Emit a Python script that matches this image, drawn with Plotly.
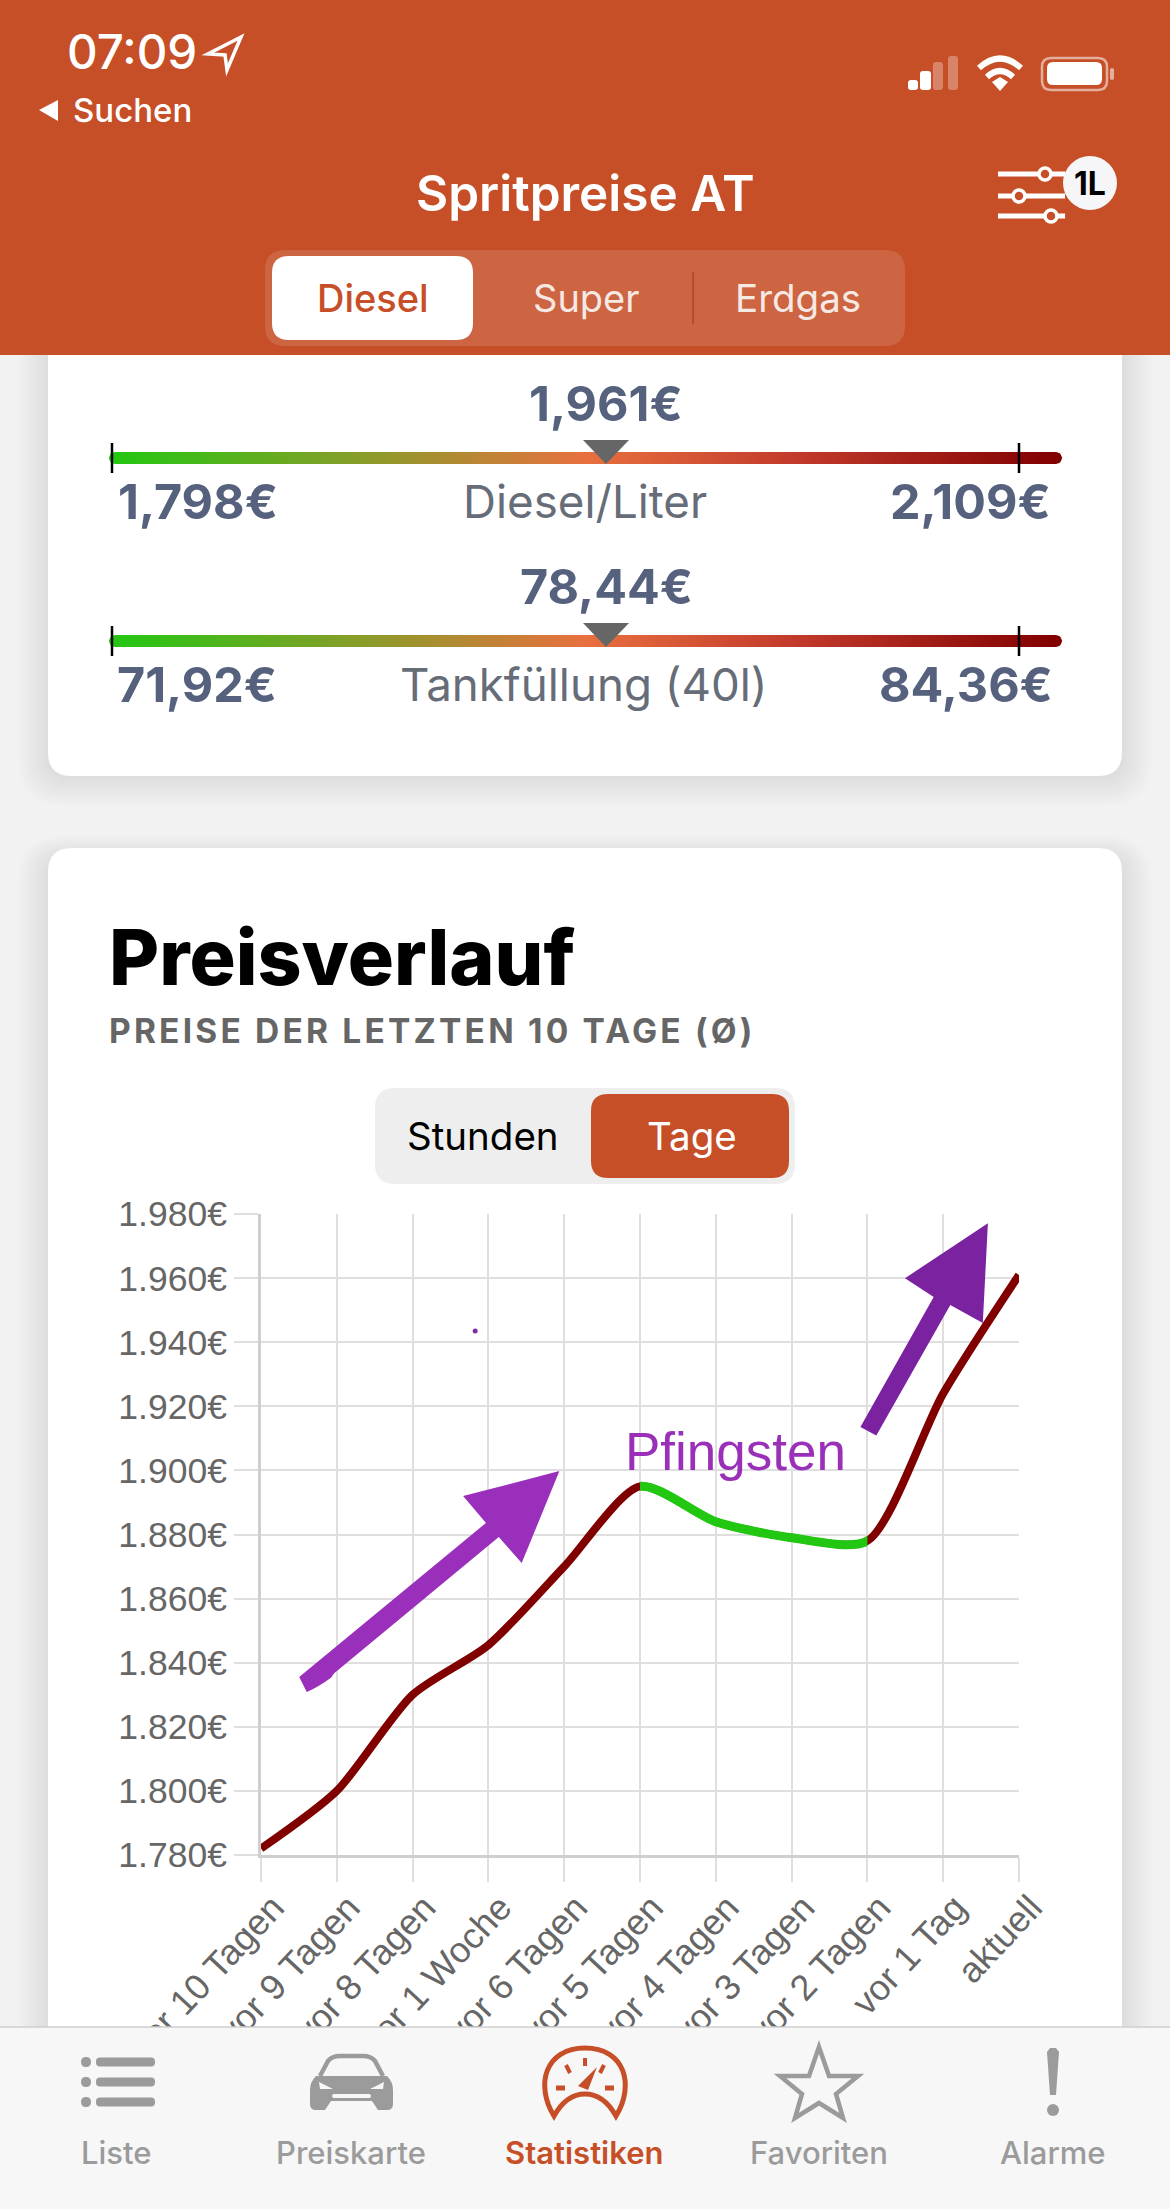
import numpy as np
import plotly.graph_objects as go

# ---------- chart data ----------
CATEGORIES = ["vor 10 Tagen", "vor 9 Tagen", "vor 8 Tagen", "vor 1 Woche", "vor 6 Tagen",
              "vor 5 Tagen", "vor 4 Tagen", "vor 3 Tagen", "vor 2 Tagen", "vor 1 Tag", "aktuell"]
PRICES = [1.782, 1.800, 1.830, 1.8455, 1.870, 1.895, 1.884, 1.879, 1.878, 1.924, 1.961]
Y_TICKS = [1.78, 1.80, 1.82, 1.84, 1.86, 1.88, 1.90, 1.92, 1.94, 1.96, 1.98]
Y_LABELS = ["1.780€", "1.800€", "1.820€", "1.840€", "1.860€", "1.880€", "1.900€", "1.920€", "1.940€", "1.960€", "1.980€"]
DARK_RED = "#800000"
GREEN = "#22c712"
GREEN_SPAN = [5, 8]

ORANGE = "#C64F28"
GREY = "#9b9b9b"
SLATE = "#56617e"
SANS = "Inter"
HELV = "Liberation Sans"

shapes, notes = [], []


def shape(path=None, fill=None, line=None, lw=0, layer="above", opacity=1):
    shapes.append(dict(type="path", path=path, xref="x", yref="y", layer=layer, opacity=opacity,
                       fillcolor=fill or "rgba(0,0,0,0)",
                       line=dict(color=line or "rgba(0,0,0,0)", width=lw)))


def rrect(x0, y0, x1, y1, r):
    return (f"M {x0+r} {y0} L {x1-r} {y0} Q {x1} {y0} {x1} {y0+r} L {x1} {y1-r} Q {x1} {y1} {x1-r} {y1} "
            f"L {x0+r} {y1} Q {x0} {y1} {x0} {y1-r} L {x0} {y0+r} Q {x0} {y0} {x0+r} {y0} Z")


def poly(pts):
    return "M " + " L ".join(f"{a:.1f} {b:.1f}" for a, b in pts) + " Z"


def circle(cx, cy, r, fill=None, line=None, lw=0, layer="above"):
    shapes.append(dict(type="circle", xref="x", yref="y", x0=cx-r, x1=cx+r, y0=cy-r, y1=cy+r, layer=layer,
                       fillcolor=fill or "rgba(0,0,0,0)", line=dict(color=line or "rgba(0,0,0,0)", width=lw)))


def seg(x0, y0, x1, y1, color, lw):
    shapes.append(dict(type="line", xref="x", yref="y", x0=x0, y0=y0, x1=x1, y1=y1, layer="above",
                       line=dict(color=color, width=lw)))


def text(x, y, s, size, color, anchor="center", weight=400, family=SANS):
    notes.append(dict(x=x, y=y, xref="x", yref="y", text=s, showarrow=False, xanchor=anchor, yanchor="middle",
                      font=dict(size=size, color=color, family=family, weight=weight)))


# ---------- cards ----------
for (x0, y0, x1, y1) in [(48, 300, 1122, 776), (48, 848, 1122, 2300)]:
    for k in range(10, 0, -1):
        shape(rrect(x0-k*3, y0-k*2+8, x1+k*3, y1+k*3, 24+k*2), fill="#000000", layer="below", opacity=0.006)
    shape(rrect(x0, y0, x1, y1, 24), fill="#ffffff", layer="below")

# ---------- header ----------
shape(poly([(0, 0), (1170, 0), (1170, 355), (0, 355)]), fill=ORANGE)
text(65, 51, "07:09", 47.5, "#ffffff", "left", 500)
shape(poly([(241, 37), (208, 54), (225, 55), (227, 70)]), line="#ffffff", lw=3.5)
shape(poly([(58, 100), (39, 110), (58, 121)]), fill="#ffffff")
text(71, 110, "Suchen", 33, "#ffffff", "left", 500)
text(585, 193, "Spritpreise AT", 49.5, "#ffffff", "center", 600)

for (x0, x1, y0, a) in [(908, 918, 80, 1), (920, 931, 71, 1), (933, 943, 62, .3), (948, 958, 56, .3)]:
    shape(rrect(x0, y0, x1, 90, 3), fill=f"rgba(255,255,255,{a})")
# wifi
shape("M 979 68 Q 1000 49 1021 68", line="#ffffff", lw=6)
shape("M 987 77 Q 1000 65 1013 77", line="#ffffff", lw=6)
shape(poly([(1000, 91), (992, 82), (1000, 77), (1008, 82)]), fill="#ffffff")
# battery
shape(rrect(1042, 58, 1107, 90, 9), line="rgba(255,255,255,.55)", lw=2.5)
shape(rrect(1047, 62, 1102, 85, 6), fill="#ffffff")
shape(rrect(1110, 68, 1114, 80, 2), fill="rgba(255,255,255,.55)")
# filter icon
for (ly, cx) in [(174, 1045), (196, 1019), (216, 1051)]:
    seg(998, ly, 1065, ly, "#ffffff", 5)
    circle(cx, ly, 6, fill=ORANGE, line="#ffffff", lw=3.5)
circle(1090, 183, 27, fill="#f6f6f8")
text(1090, 183, "1L", 32, "#000000", "center", 700)
# fuel segmented control
shape(rrect(265, 250, 905, 346, 20), fill="rgba(255,255,255,.12)")
shape(rrect(272, 256, 473, 340, 17), fill="#ffffff")
seg(693, 272, 693, 324, "rgba(150,50,20,.45)", 2)
text(373, 298, "Diesel", 38, ORANGE, "center", 500)
text(586, 298, "Super", 38, "#f6e9e3", "center", 400)
text(798, 298, "Erdgas", 38.5, "#f6e9e3", "center", 400)

# ---------- gauges ----------
GAUGE_SCALE = [[0, "#22c712"], [.28, "#8f9a2a"], [.5, "#e8703f"], [.72, "#c23a2b"], [1, "#800000"]]
traces = []
for (cy, hi, low, low_x, mid, label, lab_x, high, high_x) in [
        (458, 403, "1,798€", 116, "1,961€", "Diesel/Liter", 585, "2,109€", 1053),
        (641, 586, "71,92€", 115, "78,44€", "Tankfüllung (40l)", 584, "84,36€", 1055)]:
    th = np.linspace(np.pi/2, -np.pi/2, 12)
    xs = np.r_[1056 + 6*np.cos(th), 115 - 6*np.cos(th)]
    ys = np.r_[cy - 6*np.sin(th), cy + 6*np.sin(th)]
    traces.append(go.Scatter(x=xs, y=ys, xaxis="x", yaxis="y", mode="lines", line=dict(width=0),
                             fill="toself", hoverinfo="skip", showlegend=False,
                             fillgradient=dict(type="horizontal", colorscale=GAUGE_SCALE)))
    seg(112, cy-15, 112, cy+15, "#000000", 2.5)
    seg(1019, cy-15, 1019, cy+15, "#000000", 2.5)
    shape(poly([(583, cy-18), (629, cy-18), (606, cy+6)]), fill="#666666")
    text(606, hi, mid, 48.5, SLATE, "center", 700)
    text(low_x, cy+43, low, 48.5, SLATE, "left", 700)
    text(high_x, cy+43, high, 48.5, SLATE, "right", 700)
    text(lab_x, cy+43, label, 45.7, "#666d78", "center", 400)

# ---------- Preisverlauf card ----------
text(107, 957, "Preisverlauf", 77, "#000000", "left", 800)
text(107 + 48, 1031, "PREISE DER LETZTEN 10 TAGE (Ø)", 33.5, "#666666", "left", 700)
shape(rrect(375, 1088, 795, 1184, 20), fill="#eeeeee")
shape(rrect(591, 1094, 789, 1178, 17), fill=ORANGE)
text(483, 1136, "Stunden", 38.5, "#000000", "center", 400)
text(692, 1136, "Tage", 38.5, "#ffffff", "center", 400)

# annotation overlay on the chart
def z(zx, zy):
    return (60 + zx/1.568, 1180 + zy/2.24)


shape("M {} {} L {} {} L {} {} L {} {} L {} {} L {} {} L {} {} L {} {} Q {} {} {} {} Z".format(
    *[round(v, 1) for p in [(375, 1113), (668, 768), (632, 708), (783, 652), (724, 858), (688, 800),
                            (430, 1105), (425, 1115), (405, 1136), (387, 1147)] for v in z(*p)]), fill="#9a2fbc")
shape(poly([z(*p) for p in [(1255, 553), (1370, 262), (1325, 220), (1455, 97), (1447, 320), (1396, 280),
                            (1280, 572)]]), fill="#7a22a0")
circle(*z(651, 338), 2.5, fill="#8a2aa8")
text(735, 1451, "Pfingsten", 53, "#9a30b8", "center", 400, HELV)

# ---------- tab bar ----------
shape(poly([(0, 2027), (1170, 2027), (1170, 2209), (0, 2209)]), fill="#f7f7f7")
seg(0, 2027, 1170, 2027, "#cfcfcf", 1.5)
for ly in (2062, 2082, 2102):
    shape(rrect(81, ly-5, 91, ly+5, 5), fill=GREY)
    shape(rrect(96, ly-4.5, 155, ly+4.5, 4), fill=GREY)
# car
shape("M 320 2076 L 328 2061 Q 332 2056 340 2056 L 363 2056 Q 371 2056 375 2061 L 383 2076", line=GREY, lw=4.5)
shape("M 316 2076 L 387 2076 Q 393 2082 393 2090 L 393 2104 Q 393 2110 387 2110 L 378 2110 L 372 2101 "
      "L 331 2101 L 325 2110 L 316 2110 Q 310 2110 310 2104 L 310 2090 Q 310 2082 316 2076 Z", fill=GREY)
shape(poly([(319, 2082), (333, 2089), (320, 2089)]), fill="#f7f7f7")
shape(poly([(384, 2082), (370, 2089), (383, 2089)]), fill="#f7f7f7")
shape(rrect(332, 2094, 371, 2098, 2), fill="#f7f7f7")
text(116, 2152, "Liste", 31, GREY, "center", 500)
text(351, 2152, "Preiskarte", 31, GREY, "center", 500)
text(584, 2152, "Statistiken", 31, ORANGE, "center", 600)
text(819, 2152, "Favoriten", 31, GREY, "center", 500)
text(1053, 2152, "Alarme", 31, GREY, "center", 500)
# speedometer
shape("M 554 2116 C 535 2085 545 2048 585 2048 C 625 2048 635 2085 616 2116 "
      "C 607 2100 597 2094 585 2094 C 573 2094 563 2100 554 2116 Z", line=ORANGE, lw=5)
seg(585, 2058, 585, 2066, ORANGE, 4)
seg(566, 2065, 570, 2073, ORANGE, 4)
seg(604, 2065, 600, 2073, ORANGE, 4)
seg(556, 2088, 565, 2088, ORANGE, 5)
seg(605, 2088, 614, 2088, ORANGE, 5)
shape(poly([(578, 2086), (597, 2067), (588, 2090)]), fill=ORANGE)
# star
shape(poly([(819, 2047), (829, 2076), (858, 2076), (836, 2094), (843, 2118), (819, 2103), (795, 2118),
            (802, 2094), (780, 2076), (809, 2076)]), line=GREY, lw=4.5)
# exclamation
shape(poly([(1047, 2052), (1050, 2048), (1056, 2048), (1059, 2052), (1056, 2095), (1050, 2095)]), fill=GREY)
circle(1053, 2110, 6, fill=GREY)

# ---------- price chart ----------
SPLINE = dict(shape="spline", smoothing=0.72)
# the same curve twice: dark red everywhere, and green on an axis clipped to the falling stretch
traces.append(go.Scatter(x=CATEGORIES, y=PRICES, xaxis="x2", yaxis="y2", mode="lines",
                         line=dict(color=DARK_RED, width=8, **SPLINE),
                         cliponaxis=False, showlegend=False))
traces.append(go.Scatter(x=CATEGORIES, y=PRICES, xaxis="x3", yaxis="y2", mode="lines",
                         line=dict(color=GREEN, width=9, **SPLINE),
                         cliponaxis=True, showlegend=False))

PLOT_L, PLOT_R = 261, 1019
n_steps = len(CATEGORIES) - 1
dom_a = (PLOT_L + (PLOT_R - PLOT_L) * GREEN_SPAN[0] / n_steps) / 1170
dom_b = (PLOT_L + (PLOT_R - PLOT_L) * GREEN_SPAN[1] / n_steps) / 1170

fig = go.Figure(traces)
fig.update_layout(
    width=1170, height=2209, margin=dict(l=0, r=0, t=0, b=0, autoexpand=False), autosize=False,
    paper_bgcolor="#f2f2f3", plot_bgcolor="rgba(0,0,0,0)", showlegend=False,
    xaxis=dict(domain=[0, 1], range=[0, 1170], visible=False, fixedrange=True, automargin=False),
    yaxis=dict(domain=[0, 1], range=[2209, 0], visible=False, fixedrange=True, automargin=False),
    xaxis2=dict(domain=[PLOT_L/1170, PLOT_R/1170], anchor="y2", type="category", range=[0, n_steps], automargin=False,
                categoryorder="array", categoryarray=CATEGORIES,
                showgrid=True, gridcolor="#dfdfdf", gridwidth=2, zeroline=False,
                showline=True, linecolor="#cfcfcf", linewidth=3,
                ticks="outside", ticklen=24, tickwidth=2, tickcolor="#dfdfdf",
                tickangle=-47, tickfont=dict(family=HELV, size=36, color="#666666"),
                ticklabelshift=12, ticklabelstandoff=-10, fixedrange=True),
    xaxis3=dict(domain=[dom_a, dom_b], anchor="y2", type="category", range=GREEN_SPAN, automargin=False,
                categoryorder="array", categoryarray=CATEGORIES, visible=False, fixedrange=True),
    yaxis2=dict(domain=[1-1855/2209, 1-1214/2209], anchor="x2", range=[1.78, 1.98], automargin=False,
                tickvals=Y_TICKS, ticktext=Y_LABELS,
                showgrid=True, gridcolor="#dfdfdf", gridwidth=2, zeroline=False,
                showline=True, linecolor="#cfcfcf", linewidth=3,
                ticks="outside", ticklen=24, tickwidth=2, tickcolor="#dfdfdf",
                tickfont=dict(family=HELV, size=35.5, color="#666666"), fixedrange=True),
    shapes=shapes, annotations=notes,
)
post = """
document.body.style.margin='0';document.body.style.overflow='hidden';
function spaced(){document.querySelectorAll('.annotation-text').forEach(function(t){
  if(t.textContent.indexOf('PREISE')===0){t.style.letterSpacing='3.2px';}});}
spaced();setTimeout(spaced,50);
"""
fig.write_html("out.html", config=dict(displayModeBar=False), post_script=post)
